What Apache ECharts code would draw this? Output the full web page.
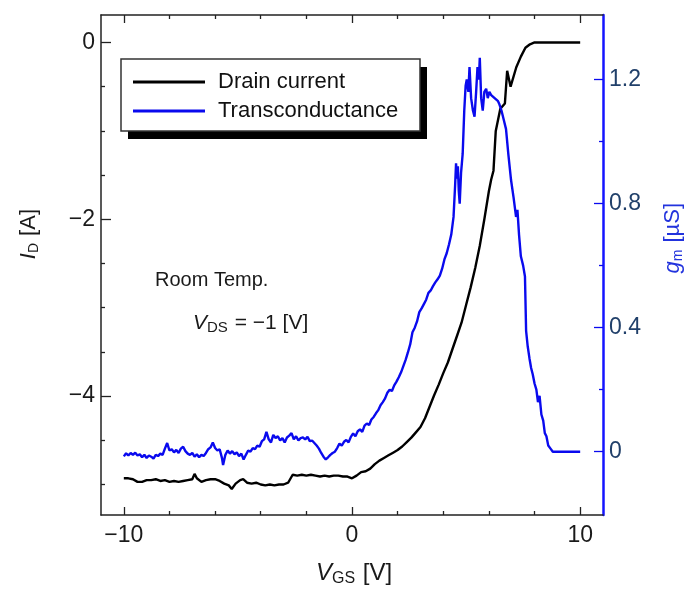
<!DOCTYPE html>
<html>
<head>
<meta charset="utf-8">
<script src="https://cdn.jsdelivr.net/npm/echarts@6/dist/echarts.min.js"></script>
<style>
  html, body { margin: 0; padding: 0; background: #fff; }
  #chart { width: 689px; height: 594px; }
</style>
</head>
<body>
<div id="chart"></div>
<script>
// Gate sweep for the drain current trace [V]
const vgsDrain = [
  -10.0, -9.8, -9.6, -9.4, -9.2, -9.0, -8.8, -8.6, -8.4, -8.2, -8.0, -7.8, -7.6, -7.4, -7.2, -7.0,
  -6.9, -6.8, -6.6, -6.4, -6.2, -6.0, -5.8, -5.6, -5.4, -5.27, -5.1, -4.9, -4.77, -4.6, -4.4, -4.2,
  -4.0, -3.8, -3.6, -3.4, -3.2, -3.0, -2.8, -2.6, -2.4, -2.2, -2.0, -1.8, -1.6, -1.4, -1.2, -1.0,
  -0.8, -0.6, -0.4, -0.2, 0.0, 0.2, 0.4, 0.6, 0.8, 1.0, 1.2, 1.4, 1.6, 1.8, 2.0, 2.2,
  2.4, 2.6, 2.8, 3.0, 3.2, 3.4, 3.6, 3.8, 4.0, 4.2, 4.4, 4.6, 4.8, 5.0, 5.2, 5.4,
  5.6, 5.8, 6.0, 6.1, 6.2, 6.3, 6.5, 6.7, 6.8, 6.95, 7.2, 7.4, 7.6, 7.8, 8.0, 10.0
];
// Drain current I_D [A]
const drainCurrent = [
  -4.93, -4.93, -4.94, -4.97, -4.97, -4.95, -4.95, -4.94, -4.96, -4.95, -4.97, -4.96, -4.97, -4.96, -4.95, -4.94,
  -4.88, -4.93, -4.97, -4.95, -4.94, -4.94, -4.96, -4.99, -5.01, -5.05, -4.99, -4.95, -4.94, -4.98, -4.99, -4.98,
  -5.00, -5.01, -5.00, -5.01, -5.00, -5.00, -4.98, -4.89, -4.90, -4.89, -4.90, -4.89, -4.90, -4.91, -4.90, -4.91,
  -4.90, -4.90, -4.91, -4.91, -4.93, -4.90, -4.86, -4.85, -4.82, -4.77, -4.73, -4.70, -4.67, -4.64, -4.61, -4.57,
  -4.52, -4.47, -4.41, -4.35, -4.25, -4.12, -3.99, -3.87, -3.74, -3.62, -3.47, -3.32, -3.17, -2.97, -2.77, -2.55,
  -2.30, -2.00, -1.68, -1.55, -1.45, -1.00, -0.75, -0.69, -0.32, -0.50, -0.28, -0.16, -0.06, -0.02, 0.0, 0.0
];

// Gate sweep for the transconductance trace [V]
const vgsGm = [
  -10.0, -9.9, -9.8, -9.7, -9.6, -9.5, -9.4, -9.3, -9.2, -9.1, -9.0, -8.9, -8.8, -8.7, -8.6, -8.5,
  -8.4, -8.3, -8.2, -8.1, -8.0, -7.9, -7.8, -7.7, -7.6, -7.5, -7.4, -7.3, -7.2, -7.1, -7.0, -6.9,
  -6.8, -6.7, -6.6, -6.5, -6.4, -6.3, -6.2, -6.1, -6.0, -5.9, -5.8, -5.7, -5.65, -5.55, -5.45, -5.35,
  -5.25, -5.15, -5.05, -4.95, -4.85, -4.75, -4.65, -4.55, -4.45, -4.35, -4.25, -4.15, -4.05, -3.95, -3.85, -3.75,
  -3.65, -3.55, -3.45, -3.35, -3.25, -3.15, -3.05, -2.95, -2.85, -2.75, -2.65, -2.55, -2.45, -2.35, -2.25, -2.15,
  -2.05, -1.95, -1.85, -1.75, -1.65, -1.55, -1.45, -1.35, -1.25, -1.15, -1.05, -0.95, -0.85, -0.75, -0.65, -0.55,
  -0.45, -0.35, -0.25, -0.15, -0.05, 0.05, 0.15, 0.25, 0.35, 0.45, 0.55, 0.65, 0.75, 0.85, 0.95, 1.05,
  1.15, 1.25, 1.35, 1.45, 1.55, 1.65, 1.75, 1.85, 1.95, 2.05, 2.15, 2.25, 2.35, 2.45, 2.55, 2.65,
  2.75, 2.85, 2.95, 3.05, 3.15, 3.25, 3.35, 3.45, 3.55, 3.65, 3.75, 3.85, 3.95, 4.05, 4.15, 4.25,
  4.35, 4.45, 4.52, 4.56, 4.60, 4.64, 4.68, 4.72, 4.78, 4.85, 4.92, 4.98, 5.03, 5.10, 5.15, 5.22,
  5.30, 5.37, 5.44, 5.50, 5.56, 5.60, 5.66, 5.73, 5.80, 5.88, 5.95, 6.02, 6.10, 6.17, 6.25, 6.32,
  6.40, 6.46, 6.55, 6.65, 6.75, 6.85, 6.97, 7.08, 7.19, 7.25, 7.32, 7.40, 7.50, 7.58, 7.63, 7.70,
  7.78, 7.85, 7.92, 8.00, 8.08, 8.15, 8.22, 8.30, 8.38, 8.45, 8.52, 8.60, 8.70, 8.80, 10.0
];
// Transconductance g_m [µS]
const transconductance = [
  -0.015, -0.005, -0.012, -0.004, -0.010, -0.003, -0.012, -0.008, -0.018, -0.010, -0.020, -0.012, -0.016, -0.022, -0.010, -0.014,
  -0.006, -0.010, 0.010, 0.028, 0.004, 0.008, -0.002, 0.006, -0.004, 0.010, 0.016, 0.002, -0.006, -0.010, -0.004, -0.016,
  -0.008, -0.018, -0.010, -0.014, -0.004, 0.008, 0.014, 0.030, 0.012, 0.004, 0.008, -0.020, -0.043, -0.010, 0.004, -0.006,
  0.002, -0.008, -0.002, -0.014, -0.006, -0.025, -0.010, 0.004, 0.000, 0.012, 0.008, 0.020, 0.016, 0.034, 0.040, 0.064,
  0.040, 0.030, 0.054, 0.044, 0.050, 0.036, 0.044, 0.030, 0.046, 0.052, 0.060, 0.040, 0.050, 0.036, 0.044, 0.046,
  0.040, 0.048, 0.034, 0.036, 0.028, 0.020, 0.010, -0.004, -0.016, -0.025, -0.018, -0.010, -0.004, 0.000, 0.012, 0.026,
  0.020, 0.032, 0.038, 0.030, 0.048, 0.059, 0.050, 0.066, 0.072, 0.064, 0.084, 0.091, 0.086, 0.104, 0.112, 0.124,
  0.134, 0.150, 0.160, 0.172, 0.190, 0.200, 0.196, 0.214, 0.226, 0.240, 0.256, 0.276, 0.296, 0.320, 0.346, 0.385,
  0.400, 0.420, 0.450, 0.462, 0.476, 0.490, 0.512, 0.520, 0.534, 0.546, 0.556, 0.568, 0.590, 0.620, 0.640, 0.668,
  0.700, 0.757, 0.86, 0.93, 0.88, 0.92, 0.84, 0.80, 0.90, 0.96, 1.10, 1.18, 1.20, 1.16, 1.24, 1.14,
  1.10, 1.08, 1.16, 1.24, 1.20, 1.27, 1.14, 1.10, 1.16, 1.17, 1.14, 1.16, 1.15, 1.155, 1.14, 1.145,
  1.13, 1.12, 1.10, 1.07, 1.04, 0.96, 0.876, 0.82, 0.757, 0.78, 0.70, 0.63, 0.60, 0.565, 0.39, 0.34,
  0.30, 0.27, 0.25, 0.22, 0.20, 0.16, 0.18, 0.12, 0.10, 0.06, 0.05, 0.02, 0.01, 0.00, 0.00
];

// Tick positions
const xMajorTicks = [-10, 0, 10];
const xMinorTicks = [-8, -6, -4, -2, 2, 4, 6, 8];
const idMajorTicks = [-4, -2, 0];
const idMinorTicks = [-5, -4.5, -3.5, -3, -2.5, -1.5, -1, -0.5];
const gmMajorTicks = [0, 0.4, 0.8, 1.2];
const gmMinorTicks = [0.2, 0.6, 1.0];

const X_RANGE = [-11, 11];
const ID_RANGE = [-5.345, 0.311];
const GM_RANGE = [-0.204, 1.408];

const FONT = "'Liberation Sans', Arial, sans-serif";
const BLUE = '#0a0aee';
const GM_LABEL = '#21406a';
const fmt = v => String(v).replace('-', '\u2212');

const gridBox = { left: 101, right: 86, top: 15, bottom: 79 };
const INK = '#222';

function tickStyle(values, len, color) {
  return { show: true, inside: true, length: len, customValues: values, lineStyle: { color: color || INK, width: 1.3 } };
}
function frameAxis(extra) {
  return Object.assign({
    type: 'value',
    splitLine: { show: false },
    axisLine: { show: true, onZero: false, lineStyle: { color: INK, width: 1.5 } },
    axisLabel: { show: false }
  }, extra);
}
const hiddenLine = { show: false, onZero: false };

const chart = echarts.init(document.getElementById('chart'), null, { renderer: 'canvas' });

chart.setOption({
  animation: false,
  backgroundColor: '#fff',
  grid: [
    Object.assign({ containLabel: false }, gridBox),
    Object.assign({ containLabel: false }, gridBox)
  ],
  xAxis: [
    frameAxis({
      gridIndex: 0, position: 'bottom', min: X_RANGE[0], max: X_RANGE[1],
      axisTick: tickStyle(xMajorTicks, 8),
      axisLabel: { show: true, customValues: xMajorTicks, formatter: fmt, margin: 9,
        fontSize: 23, fontFamily: FONT, color: '#1a1a1a' }
    }),
    frameAxis({ gridIndex: 0, position: 'top', min: X_RANGE[0], max: X_RANGE[1], axisTick: tickStyle(xMajorTicks, 8) }),
    frameAxis({ gridIndex: 1, position: 'bottom', min: X_RANGE[0], max: X_RANGE[1], axisLine: hiddenLine, axisTick: tickStyle(xMinorTicks, 4) }),
    frameAxis({ gridIndex: 1, position: 'top', min: X_RANGE[0], max: X_RANGE[1], axisLine: hiddenLine, axisTick: tickStyle(xMinorTicks, 4) })
  ],
  yAxis: [
    frameAxis({
      gridIndex: 0, position: 'left', min: ID_RANGE[0], max: ID_RANGE[1],
      axisTick: tickStyle(idMajorTicks, 10),
      axisLabel: { show: true, customValues: idMajorTicks, formatter: fmt, margin: 6,
        fontSize: 23, fontFamily: FONT, color: '#1a1a1a' }
    }),
    frameAxis({
      gridIndex: 0, position: 'right', min: GM_RANGE[0], max: GM_RANGE[1],
      axisLine: { show: true, onZero: false, lineStyle: { color: '#1414ff', width: 2.5 } },
      axisTick: tickStyle(gmMajorTicks, 9, BLUE),
      axisLabel: { show: true, customValues: gmMajorTicks, formatter: v => (v === 0 ? '0' : v.toFixed(1)), margin: 6,
        fontSize: 23, fontFamily: FONT, color: GM_LABEL }
    }),
    frameAxis({ gridIndex: 1, position: 'left', min: ID_RANGE[0], max: ID_RANGE[1], axisLine: hiddenLine, axisTick: tickStyle(idMinorTicks, 4) }),
    frameAxis({ gridIndex: 1, position: 'right', min: GM_RANGE[0], max: GM_RANGE[1], axisLine: hiddenLine, axisTick: tickStyle(gmMinorTicks, 4, BLUE) })
  ],
  legend: {
    orient: 'vertical',
    left: 121,
    top: 59,
    z: 10,
    padding: [10, 15, 6, 12],
    itemGap: 3,
    itemWidth: 72,
    itemHeight: 3,
    icon: 'rect',
    textStyle: { fontSize: 22, fontFamily: FONT, color: '#111', lineHeight: 26, padding: [0, 0, 0, 8] },
    data: ['Drain current', 'Transconductance']
  },
  series: [
    {
      name: 'Drain current',
      type: 'line',
      xAxisIndex: 0, yAxisIndex: 0,
      showSymbol: false, symbol: 'none',
      color: '#000',
      lineStyle: { color: '#000', width: 2.4 },
      data: vgsDrain.map((v, i) => [v, drainCurrent[i]])
    },
    {
      name: 'Transconductance',
      type: 'line',
      xAxisIndex: 0, yAxisIndex: 1,
      showSymbol: false, symbol: 'none',
      color: BLUE,
      lineStyle: { color: BLUE, width: 2.4 },
      data: vgsGm.map((v, i) => [v, transconductance[i]])
    }
  ],
  graphic: [
    // legend frame: solid drop shadow, then the white box
    { type: 'rect', z: 8, shape: { x: 128, y: 67, width: 299, height: 72 }, style: { fill: '#000' } },
    { type: 'rect', z: 9, shape: { x: 121, y: 59, width: 299, height: 72 }, style: { fill: '#fff', stroke: '#333', lineWidth: 1.5 } },
    {
      type: 'text', left: 18, top: 209, rotation: Math.PI / 2,
      style: {
        text: '{i|I}{s|D} [A]', fill: '#1a1a1a', font: '22px ' + FONT,
        rich: {
          i: { fontStyle: 'italic', fontSize: 22, fontFamily: FONT },
          s: { fontSize: 14, fontFamily: FONT, verticalAlign: 'bottom', padding: [10, 1, 0, 0] }
        }
      }
    },
    {
      type: 'text', left: 662, top: 203, rotation: Math.PI / 2,
      style: {
        text: '{i|g}{s|m} [µS]', fill: '#2233dd', font: '22px ' + FONT,
        rich: {
          i: { fontStyle: 'italic', fontSize: 22, fontFamily: FONT, fill: '#2233dd' },
          s: { fontSize: 14, fontFamily: FONT, verticalAlign: 'bottom', padding: [10, 1, 0, 0], fill: '#2233dd' }
        }
      }
    },
    {
      type: 'text', left: 316, top: 561,
      style: {
        text: '{i|V}{s|GS} [V]', fill: '#1a1a1a', font: '24px ' + FONT,
        rich: {
          i: { fontStyle: 'italic', fontSize: 24, fontFamily: FONT },
          s: { fontSize: 16, fontFamily: FONT, verticalAlign: 'bottom', padding: [11, 1, 0, 0] }
        }
      }
    },
    {
      type: 'text', left: 155, top: 270,
      style: { text: 'Room Temp.', fill: '#1a1a1a', font: '20px ' + FONT }
    },
    {
      type: 'text', left: 193, top: 313,
      style: {
        text: '{i|V}{s|DS} = \u22121 [V]', fill: '#1a1a1a', font: '21px ' + FONT,
        rich: {
          i: { fontStyle: 'italic', fontSize: 21, fontFamily: FONT },
          s: { fontSize: 15, fontFamily: FONT, verticalAlign: 'bottom', padding: [9, 1, 0, 0] }
        }
      }
    }
  ]
});
</script>
</body>
</html>
